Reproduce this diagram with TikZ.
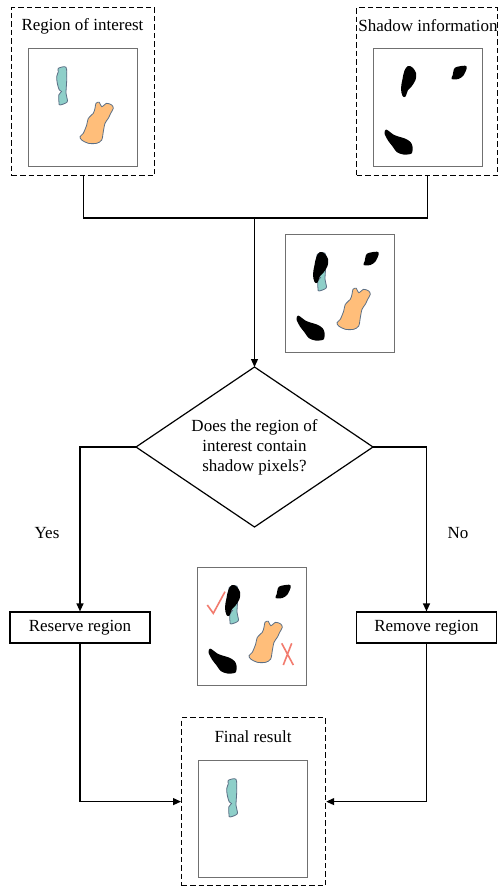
\documentclass[tikz,border=0pt]{standalone}
\usepackage{fontspec}
\setmainfont{Liberation Serif}
\usetikzlibrary{arrows.meta,shapes.geometric}

\definecolor{roiteal}{HTML}{8ECFC9}
\definecolor{roiorange}{HTML}{FFBE7A}
\definecolor{blobedge}{HTML}{5B6F85}
\definecolor{markred}{HTML}{F27B6E}
\definecolor{framegray}{HTML}{707070}

% blob outlines, in local pixel units of an image frame
\newcommand{\tealblob}{%
  \draw[fill=roiteal,draw=blobedge,line width=0.8pt]
    plot[smooth cycle,tension=0.5] coordinates {(30.3,20.3) (38,19.3) (38.7,32) (38,45.3) (39.3,53.7) (32,57) (31,54.7) (30.8,47) (33.5,43.5) (31.2,41.8) (29.3,35.3) (28.7,28.7) (30.3,23.7)};}
\newcommand{\orangeblob}{%
  \draw[fill=roiorange,draw=blobedge,line width=0.8pt]
    plot[smooth cycle,tension=0.5] coordinates {(68,55.3) (71.3,54.3) (73.7,58.7) (78.7,55.3) (83.7,57) (85.3,60.3) (82.7,65.3) (80.3,70.3) (77,75.3) (75.3,83.7) (73.7,92) (68.7,95.3) (60.3,95.3) (53.7,92) (52,88.7) (55.3,85.3) (58.7,77) (60.3,70.3) (65.3,65.3) (67,60.3)};}
\newcommand{\shadowblobs}{%
  \fill[black] plot[smooth cycle,tension=0.6] coordinates {(35,18) (39.5,19.5) (43,25) (42.5,32) (38.5,38.5) (35,42) (32.5,48.5) (29.5,48) (28,40.5) (29.5,31) (31.5,22.5)};
  \fill[black] plot[smooth cycle,tension=0.5] coordinates {(82,19.7) (92,17.7) (93.7,20.3) (90.3,27.7) (85.3,31) (78.7,31) (79.7,27)};
  \fill[black] plot[smooth cycle,tension=0.5] coordinates {(13,81.5) (17,84) (20.3,86.5) (25.3,88.5) (32,90.5) (37.5,94) (39.5,98.7) (38.5,105.5) (30.3,106.5) (23.7,104) (20,99) (15,92.5) (11.5,85.3)};}

\begin{document}
\begin{tikzpicture}[x=1pt,y=-1pt,
  font=\fontsize{17}{20}\selectfont,
  line width=1.2pt,
  dashbox/.style={draw,dash pattern=on 5.5pt off 3pt,line width=1.2pt,inner sep=0pt,anchor=north west},
  imgframe/.style={draw=framegray,fill=white,line width=1pt,inner sep=0pt,anchor=north west,minimum width=109pt,minimum height=118pt},
  procbox/.style={draw,line width=1.2pt,inner sep=0pt,minimum width=140pt,minimum height=31pt},
  decision/.style={draw,diamond,aspect=1.48,line width=1.2pt,inner sep=0pt,outer sep=0pt,minimum width=237pt,minimum height=160pt,align=center},
  arr/.style={-{Triangle[length=8pt,width=7pt]}},
  conn/.style={line width=1.2pt}
]
\useasboundingbox (0,0) rectangle (499,887);

% input panels
\node[dashbox,minimum width=143pt,minimum height=168pt] (roi) at (11,7) {};
\node (roilabel) at (82.5,26) {Region of interest};
\node[imgframe] (roiimg) at (28,48) {};
\begin{scope}[shift={(roiimg.north west)}]
  \tealblob \orangeblob
\end{scope}

\node[dashbox,minimum width=141pt,minimum height=168pt] (shd) at (356,7) {};
\node (shdlabel) at (428,26) {Shadow information};
\node[imgframe] (shdimg) at (373,48) {};
\begin{scope}[shift={(shdimg.north west)}]
  \shadowblobs
\end{scope}

% overlay of both inputs
\node[imgframe] (mix) at (285,234) {};
\begin{scope}[shift={(mix.north west)}]
  \begin{scope}[xshift=2pt]\tealblob\end{scope}
  \shadowblobs
  \orangeblob
\end{scope}

% decision
\node[decision] (dia) at (254.5,447) {Does the region of\\interest contain\\shadow pixels?};

\coordinate (join) at (254.5,218);
\draw[conn] (roi.south) |- (join) -| (shd.south);
\draw[conn,arr] (join) -- (dia.north);

% branches
\node[procbox] (res) at (80,627.5) {Reserve region};
\node[procbox] (rem) at (426.5,627.5) {Remove region};
\draw[conn,arr] (dia.west) -| (res.north);
\draw[conn,arr] (dia.east) -| (rem.north);
\node (yes) at (47,533) {Yes};
\node (no) at (458,533) {No};

% check / reject illustration
\node[imgframe] (chk) at (197,567) {};
\begin{scope}[shift={(chk.north west)}]
  \begin{scope}[xshift=2pt]\tealblob\end{scope}
  \shadowblobs
  \orangeblob
  \draw[markred,line width=1.6pt] (10.3,38) -- (16.3,46.3) -- (28,24.7);
  \draw[markred,line width=1.6pt] (84.7,76.3) -- (96.3,98) (94.7,76.3) -- (86.3,98);
\end{scope}

% result
\node[dashbox,minimum width=144pt,minimum height=168pt] (fin) at (181,717) {};
\node (finlabel) at (253,737) {Final result};
\node[imgframe,minimum height=117pt] (finimg) at (198,760) {};
\begin{scope}[shift={(finimg.north west)}]
  \tealblob
\end{scope}

\draw[conn,arr] (res.south) |- (fin.west);
\draw[conn,arr] (rem.south) |- (fin.east);
\end{tikzpicture}
\end{document}
